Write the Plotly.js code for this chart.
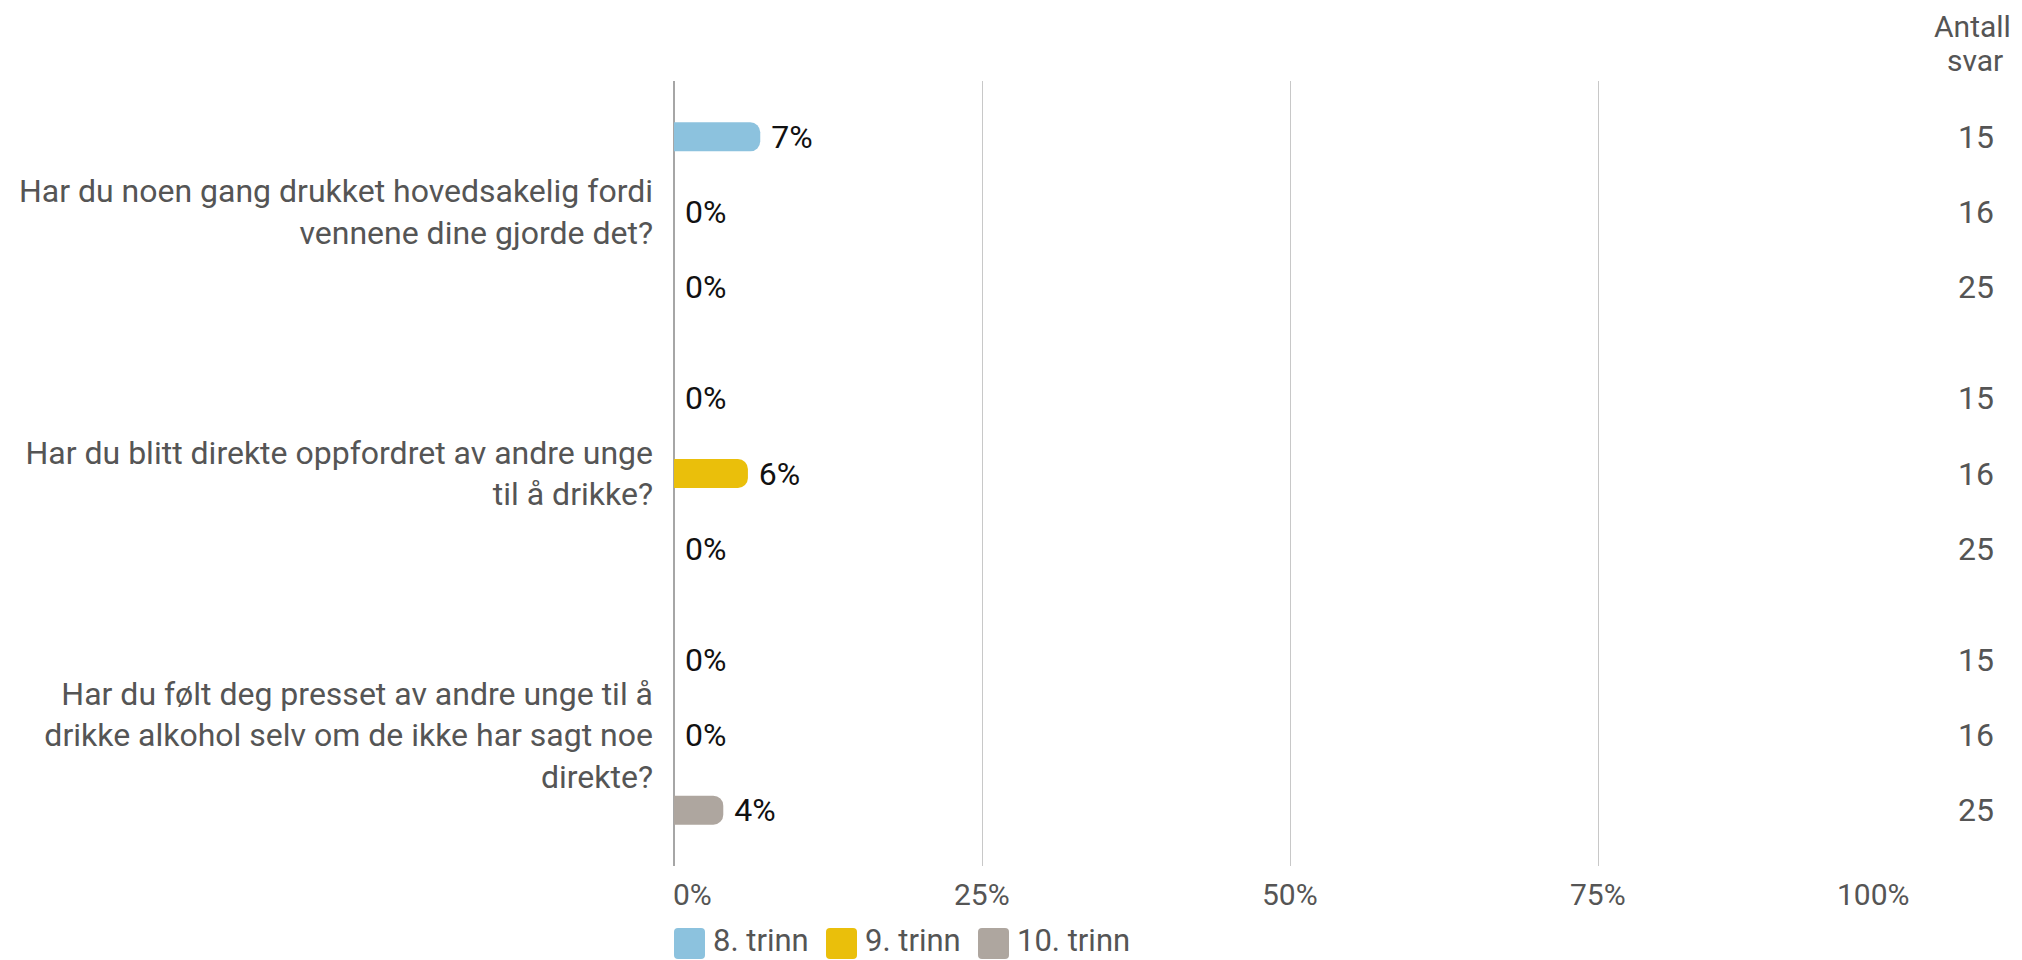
<!DOCTYPE html>
<html>
<head>
<meta charset="utf-8">
<script src="https://cdn.plot.ly/plotly-3.0.1.min.js"></script>
<style>
  html, body { margin: 0; padding: 0; background: #ffffff; }
  #chart { width: 2022px; height: 960px; }
</style>
</head>
<body>
<div id="chart"></div>
<script>
// ---- data ----
const categories = [
  "Har du noen gang drukket hovedsakelig fordi<br>vennene dine gjorde det?",
  "Har du blitt direkte oppfordret av andre unge<br>til å drikke?",
  "Har du følt deg presset av andre unge til å<br>drikke alkohol selv om de ikke har sagt noe<br>direkte?"
];
const seriesNames = ["8. trinn", "9. trinn", "10. trinn"];
const trinn8 = [7, 0, 0];
const trinn9 = [0, 6, 0];
const trinn10 = [0, 0, 4];
const antall8 = [15, 15, 15];
const antall9 = [16, 16, 16];
const antall10 = [25, 25, 25];
const xTickVals = [0, 25, 50, 75, 100];
const xTickText = ["0%", "25%", "50%", "75%", "100%"];
const countHeader = ["Antall", "svar"];

// ---- style ----
const colors = ["#8cc2de", "#eabf0b", "#aea69f"];
const FONT = "Roboto, 'Noto Sans', Arial, sans-serif";
const GREY = "#555555";
const FS = 30;

const values = [trinn8, trinn9, trinn10];
const counts = [antall8, antall9, antall10];

const traces = [];
values.forEach((v, i) => {
  traces.push({
    type: "bar",
    orientation: "h",
    name: seriesNames[i],
    y: categories,
    x: v,
    xaxis: "x",
    yaxis: "y",
    marker: { color: colors[i], cornerradius: 10 },
    texttemplate: "\u00a0%{x}%",
    textposition: "outside",
    constraintext: "none",
    textfont: { family: FONT, size: 32, color: "#111111" },
    cliponaxis: false,
    hoverinfo: "skip",
    showlegend: false
  });
});
counts.forEach((c, i) => {
  traces.push({
    type: "bar",
    orientation: "h",
    name: seriesNames[i] + " antall",
    y: categories,
    x: c.map(() => 0),
    text: c.map(String),
    texttemplate: "%{text}",
    xaxis: "x2",
    yaxis: "y",
    marker: { color: "rgba(0,0,0,0)" },
    textposition: "outside",
    constraintext: "none",
    textfont: { family: FONT, size: 32, color: GREY },
    cliponaxis: false,
    hoverinfo: "skip",
    showlegend: false
  });
});

// ---- annotations: x tick labels (first left, last right aligned) ----
const annotations = [];
xTickVals.forEach((v, i) => {
  const first = i === 0, last = i === xTickVals.length - 1;
  annotations.push({
    xref: "x", yref: "paper", x: v, y: 0,
    yanchor: "middle", yshift: -28,
    xanchor: first ? "left" : (last ? "right" : "center"),
    xshift: first ? -3 : (last ? 6 : 0),
    text: xTickText[i], showarrow: false,
    font: { family: FONT, size: FS, color: GREY }
  });
});
// header "Antall svar"
annotations.push({
  xref: "paper", yref: "paper", x: 1, y: 1, xshift: -50, yshift: 55,
  xanchor: "center", yanchor: "middle", showarrow: false,
  text: countHeader[0], font: { family: FONT, size: FS, color: GREY }
});
annotations.push({
  xref: "paper", yref: "paper", x: 1, y: 1, xshift: -47, yshift: 21,
  xanchor: "center", yanchor: "middle", showarrow: false,
  text: countHeader[1], font: { family: FONT, size: FS, color: GREY }
});

// ---- custom legend (large rounded swatches) ----
const shapes = [];
const legendOffsets = [0, 152, 304];
function roundedRect(x0, y0, w, h, r) {
  const x1 = x0 + w, y1 = y0 + h;
  return `M${x0 + r},${y0} L${x1 - r},${y0} Q${x1},${y0} ${x1},${y0 + r} ` +
         `L${x1},${y1 - r} Q${x1},${y1} ${x1 - r},${y1} L${x0 + r},${y1} ` +
         `Q${x0},${y1} ${x0},${y1 - r} L${x0},${y0 + r} Q${x0},${y0} ${x0 + r},${y0} Z`;
}
seriesNames.forEach((nm, i) => {
  shapes.push({
    type: "path", xref: "paper", yref: "paper",
    xsizemode: "pixel", ysizemode: "pixel",
    xanchor: 0, yanchor: 0,
    path: roundedRect(legendOffsets[i], -93, 31, 31, 4),
    fillcolor: colors[i], line: { width: 0 }
  });
  annotations.push({
    xref: "paper", yref: "paper", x: 0, y: 0,
    xshift: legendOffsets[i] + 37, yshift: -74,
    xanchor: "left", yanchor: "middle", showarrow: false,
    text: nm, font: { family: FONT, size: 31, color: GREY }
  });
});

const layout = {
  width: 2022, height: 960,
  margin: { l: 674, r: 0, t: 81, b: 94 },
  paper_bgcolor: "#ffffff", plot_bgcolor: "#ffffff",
  font: { family: FONT, size: FS, color: GREY },
  barmode: "group",
  bargap: 0.14,
  bargroupgap: 0.613,
  showlegend: false,
  xaxis: {
    domain: [0, 1232 / 1348],
    range: [0, 100],
    tickvals: xTickVals,
    showticklabels: false,
    showgrid: true, gridcolor: "#c8c8c8", gridwidth: 1,
    zeroline: true, zerolinecolor: "#a6a6a6", zerolinewidth: 2,
    showline: false, ticks: "", fixedrange: true
  },
  xaxis2: {
    domain: [(1955 - 674) / 1348, 1],
    range: [0, 1],
    anchor: "y",
    showgrid: false, zeroline: false, showticklabels: false, showline: false,
    fixedrange: true
  },
  yaxis: {
    type: "category",
    autorange: "reversed",
    showgrid: false, zeroline: false, showline: false, ticks: "",
    ticklabelstandoff: 20,
    tickfont: { family: FONT, size: 32, color: GREY },
    fixedrange: true
  },
  annotations: annotations,
  shapes: shapes
};

Plotly.newPlot("chart", traces, layout, { displayModeBar: false, staticPlot: true });
</script>
</body>
</html>
